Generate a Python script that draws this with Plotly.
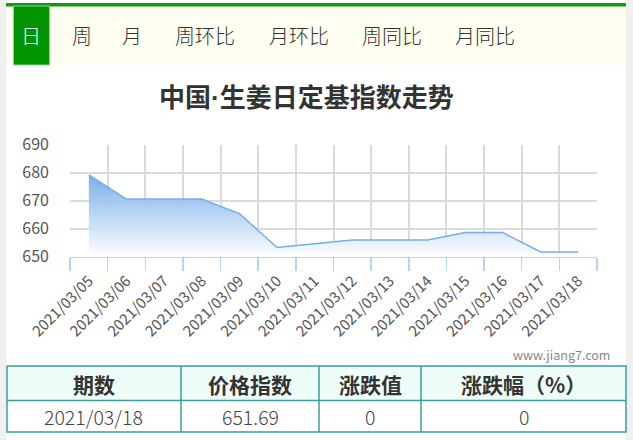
import plotly.graph_objects as go

# ---- data ----
dates = ["2021/03/05", "2021/03/06", "2021/03/07", "2021/03/08", "2021/03/09",
         "2021/03/10", "2021/03/11", "2021/03/12", "2021/03/13", "2021/03/14",
         "2021/03/15", "2021/03/16", "2021/03/17", "2021/03/18"]
index_values = [679.2, 670.6, 670.6, 670.6, 665.4, 653.3, 654.6, 656.0, 656.0,
                656.0, 658.6, 658.6, 651.69, 651.69]
y_ticks = [650, 660, 670, 680, 690]
tabs = ["日", "周", "月", "周环比", "月环比", "周同比", "月同比"]
title_parts = ["中国", "·", "生姜日定基指数走势"]
table_header = ["期数", "价格指数", "涨跌值", "涨跌幅（%）"]
table_row = ["2021/03/18", "651.69", "0", "0"]
watermark = "www.jiang7.com"

W, H = 633, 440
FONT = "Microsoft YaHei, Noto Sans CJK SC, sans-serif"

def px(x):
    return x / W

def py(y):
    return (H - y) / H

fig = go.Figure()

fig.add_trace(go.Scatter(
    x=dates, y=index_values, mode="lines",
    line=dict(color="#74aeea", width=1.5),
    fill="tozeroy",
    fillgradient=dict(type="vertical", start=650, stop=680,
                      colorscale=[[0, "rgba(255,255,255,0.95)"],
                                  [1, "rgba(112,168,232,0.95)"]]),
    hoverinfo="skip", showlegend=False,
))

shapes = [
    dict(type="rect", xref="paper", yref="paper", x0=0, x1=px(6), y0=0, y1=1,
         fillcolor="#f0f0f0", line=dict(width=0), layer="below"),
    dict(type="rect", xref="paper", yref="paper", x0=px(626), x1=1, y0=0, y1=1,
         fillcolor="#f0f0f0", line=dict(width=0), layer="below"),
    dict(type="rect", xref="paper", yref="paper", x0=px(6), x1=px(626), y0=py(65), y1=py(6),
         fillcolor="#fefff0", line=dict(width=0), layer="below"),
    dict(type="rect", xref="paper", yref="paper", x0=px(6), x1=px(626), y0=py(6.5), y1=py(3),
         fillcolor="#129a12", line=dict(width=0), layer="below"),
    dict(type="rect", xref="paper", yref="paper", x0=px(13.5), x1=px(49.5), y0=py(65), y1=py(6),
         fillcolor="#009400", line=dict(color="#8fd88f", width=1), layer="below"),
]

# ---- table (drawn from table_header / table_row) ----
col_edges = [7, 181, 319, 421, 626]
t_top, t_mid, t_bot = 366, 400.5, 432
BORDER = "#3a9d9d"
shapes.append(dict(type="rect", xref="paper", yref="paper",
                   x0=px(col_edges[0]), x1=px(col_edges[-1]), y0=py(t_mid), y1=py(t_top),
                   fillcolor="#effdf8", line=dict(width=0), layer="below"))
shapes.append(dict(type="rect", xref="paper", yref="paper",
                   x0=px(col_edges[0]), x1=px(col_edges[-1]), y0=py(t_bot), y1=py(t_top),
                   fillcolor="rgba(0,0,0,0)", line=dict(color=BORDER, width=1.5)))
shapes.append(dict(type="line", xref="paper", yref="paper",
                   x0=px(col_edges[0]), x1=px(col_edges[-1]), y0=py(t_mid), y1=py(t_mid),
                   line=dict(color=BORDER, width=1.5)))
for e in col_edges[1:-1]:
    shapes.append(dict(type="line", xref="paper", yref="paper",
                       x0=px(e), x1=px(e), y0=py(t_bot), y1=py(t_top),
                       line=dict(color=BORDER, width=1.5)))

annotations = []
for i in range(len(table_header)):
    cx = (col_edges[i] + col_edges[i + 1]) / 2
    annotations.append(dict(
        x=px(cx), y=py(383.5), xref="paper", yref="paper", text="<b>%s</b>" % table_header[i],
        showarrow=False, xanchor="center", yanchor="middle",
        font=dict(family=FONT, size=21, color="#333333")))
    annotations.append(dict(
        x=px(cx), y=py(416.5), xref="paper", yref="paper", text=table_row[i],
        showarrow=False, xanchor="center", yanchor="middle",
        font=dict(family=FONT, size=19.5, weight=300, color="#444444")))

tab_x = [31, 82, 132, 205, 299, 392, 485]
for i, t in enumerate(tabs):
    annotations.append(dict(
        x=px(tab_x[i]), y=py(36), xref="paper", yref="paper", text=t,
        showarrow=False, xanchor="center", yanchor="middle",
        font=dict(family=FONT, size=20, weight=300,
                  color="white" if i == 0 else "#333333")))
title_html = "<b>%s<span style=\"font-family:'Liberation Sans'\">%s</span>%s</b>" % tuple(title_parts)
annotations.append(dict(
    x=px(306.5), y=py(95), xref="paper", yref="paper", text=title_html,
    showarrow=False, xanchor="center", yanchor="middle",
    font=dict(family=FONT, size=26, color="#333333")))
annotations.append(dict(
    x=px(612), y=py(354), xref="paper", yref="paper", text=watermark,
    showarrow=False, xanchor="right", yanchor="middle",
    font=dict(family=FONT, size=12.5, color="#888888")))

fig.update_layout(
    width=W, height=H, margin=dict(l=0, r=0, t=0, b=0, pad=0, autoexpand=False),
    paper_bgcolor="white", plot_bgcolor="white",
    shapes=shapes, annotations=annotations,
    xaxis=dict(
        type="category", domain=[px(70), px(597)], range=[-0.5, len(dates) - 0.5],
        automargin=False,
        tickson="boundaries", showgrid=True, gridcolor="#dadada", gridwidth=2,
        showline=True, linecolor="#b7d2ee", linewidth=1.5,
        ticks="outside", ticklen=13, tickcolor="#b7d2ee", tickwidth=1.5,
        ticklabelstandoff=8,
        tickangle=-45, tickfont=dict(family=FONT, size=15, color="#555555"),
        zeroline=False, fixedrange=True,
    ),
    yaxis=dict(
        domain=[py(256.7), py(144.7)], range=[650, 690],
        automargin=False,
        tickvals=y_ticks, showgrid=True, gridcolor="#dadada", gridwidth=2,
        showline=False, zeroline=False, ticks="",
        ticklabelstandoff=20,
        tickfont=dict(family=FONT, size=16, color="#555555"), fixedrange=True,
    ),
)

fig.write_html(
    "out.html",
    config={"displayModeBar": False, "staticPlot": True},
    post_script="document.body.style.margin='0';document.body.style.overflow='hidden';",
)
